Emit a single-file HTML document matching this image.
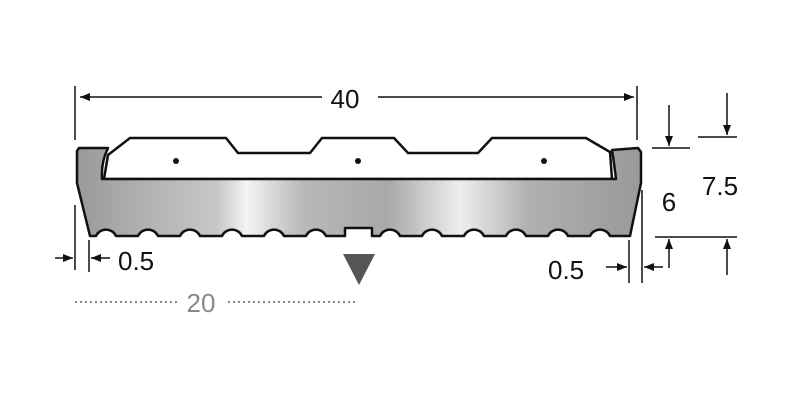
<!DOCTYPE html>
<html><head><style>body{margin:0;background:#fff}svg{display:block}</style></head><body>
<svg width="800" height="400" viewBox="0 0 800 400" xmlns="http://www.w3.org/2000/svg" font-family="Liberation Sans, sans-serif">
<defs>
<linearGradient id="g" x1="0" x2="1" y1="0" y2="0">
<stop offset="0" stop-color="#9a9a9a"/><stop offset="0.25" stop-color="#c8c8c8"/><stop offset="0.3" stop-color="#f4f4f4"/><stop offset="0.4" stop-color="#b8b8b8"/><stop offset="0.55" stop-color="#a8a8a8"/><stop offset="0.68" stop-color="#eeeeee"/><stop offset="0.8" stop-color="#b0b0b0"/><stop offset="1" stop-color="#999"/>
</linearGradient>
<marker id="a" markerWidth="10" markerHeight="8" refX="10" refY="4" orient="auto" markerUnits="userSpaceOnUse"><path d="M0,0 L10,4 L0,8 Z" fill="#111"/></marker>
</defs>
<path d="M104,179 L108,155 L130,138 L226,138 L238,153 L310,153 L322,138 L394,138 L408,153 L478,153 L492,138 L586,138 L610,152 L612,179 Z" fill="#fff" stroke="#111" stroke-width="2.5"/>
<circle cx="176" cy="161" r="3" fill="#111"/><circle cx="358" cy="161" r="3" fill="#111"/><circle cx="544" cy="161" r="3" fill="#111"/>
<path d="M79,148 L108,148 Q101,162 102,179 L616,179 Q614,162 612,150 L638,148 L641,152 L641,183 L630,236
L610,236 A11,11 0 0 0 590,236 L568,236 A11,11 0 0 0 548,236 L526,236 A11,11 0 0 0 506,236 L484,236 A11,11 0 0 0 464,236 L442,236 A11,11 0 0 0 422,236 L400,236 A11,11 0 0 0 380,236 L372,236 L372,228 L345,228 L345,236
L326,236 A11,11 0 0 0 306,236 L284,236 A11,11 0 0 0 264,236 L242,236 A11,11 0 0 0 222,236 L200,236 A11,11 0 0 0 180,236 L158,236 A11,11 0 0 0 138,236 L116,236 A11,11 0 0 0 96,236 L90,236 L77,183 L77,151 Z" fill="url(#g)" stroke="#111" stroke-width="2.5" stroke-linejoin="round"/>
<g stroke="#111" stroke-width="1.5" fill="none">
<line x1="75" y1="86" x2="75" y2="140"/><line x1="637" y1="86" x2="637" y2="140"/>
<line x1="80" y1="97" x2="322" y2="97" marker-end="url(#a)" transform="rotate(180 201 97)"/>
<line x1="378" y1="97" x2="634" y2="97" marker-end="url(#a)"/>
<line x1="75" y1="205" x2="75" y2="270"/><line x1="89" y1="240" x2="89" y2="272"/>
<line x1="55" y1="258" x2="73" y2="258" marker-end="url(#a)"/><line x1="110" y1="258" x2="91" y2="258" marker-end="url(#a)"/>
<line x1="629" y1="240" x2="629" y2="283"/><line x1="642" y1="190" x2="642" y2="283"/>
<line x1="606" y1="267" x2="627" y2="267" marker-end="url(#a)"/><line x1="663" y1="267" x2="644" y2="267" marker-end="url(#a)"/>
<line x1="652" y1="148" x2="690" y2="148"/><line x1="655" y1="237" x2="700" y2="237"/>
<line x1="669" y1="105" x2="669" y2="146" marker-end="url(#a)"/><line x1="669" y1="268" x2="669" y2="239" marker-end="url(#a)"/>
<line x1="698" y1="137" x2="737" y2="137"/><line x1="700" y1="237" x2="737" y2="237"/>
<line x1="727" y1="93" x2="727" y2="135" marker-end="url(#a)"/><line x1="727" y1="275" x2="727" y2="239" marker-end="url(#a)"/>
</g>
<g fill="#111" font-size="26">
<text x="345" y="108" text-anchor="middle">40</text>
<text x="118" y="270">0.5</text>
<text x="548" y="279">0.5</text>
<text x="669" y="211" text-anchor="middle">6</text>
<text x="720" y="195" text-anchor="middle">7.5</text>
</g>
<path d="M343,254 L375,254 L359,285 Z" fill="#555"/>
<g stroke="#888" stroke-width="2" stroke-dasharray="2,3"><line x1="75" y1="302" x2="178" y2="302"/><line x1="228" y1="302" x2="355" y2="302"/></g>
<text x="201" y="312" font-size="26" fill="#888" text-anchor="middle">20</text>
</svg>
</body></html>
